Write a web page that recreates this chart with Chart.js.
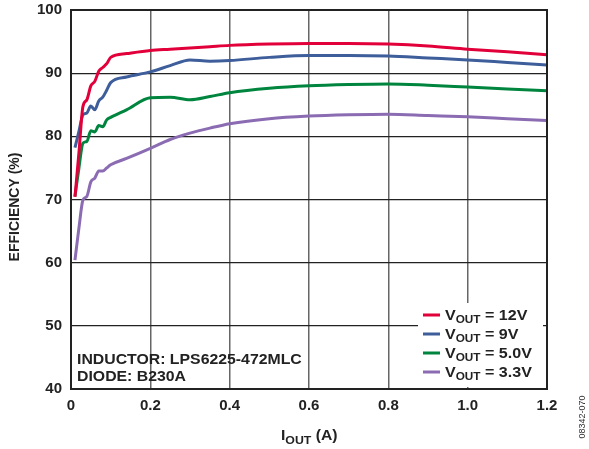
<!DOCTYPE html>
<html>
<head>
<meta charset="utf-8">
<script src="https://cdn.jsdelivr.net/npm/chart.js@4"></script>
<style>
  html, body { margin: 0; padding: 0; background: #fff; }
  #wrap { width: 589px; height: 449px; }
</style>
</head>
<body>
<div id="wrap"><canvas id="effChart" width="589" height="449"></canvas></div>
<script>
// output current (A), shared by all curves
var iout = [0.01, 0.02, 0.03, 0.04, 0.05, 0.06, 0.07, 0.08, 0.09, 0.1, 0.14, 0.2, 0.25, 0.3, 0.35, 0.4, 0.5, 0.6, 0.7, 0.8, 0.9, 1.0, 1.1, 1.2];
// efficiency (%)
var eff12 = [70.4, 77.4, 84.7, 85.8, 88.0, 88.7, 90.3, 90.9, 91.5, 92.5, 93.1, 93.6, 93.8, 94.0, 94.2, 94.4, 94.6, 94.7, 94.7, 94.6, 94.3, 93.8, 93.4, 92.9];
var eff9 = [78.2, 80.8, 83.4, 83.7, 84.8, 84.2, 85.6, 86.2, 87.3, 88.5, 89.4, 90.2, 91.2, 92.1, 91.9, 92.0, 92.5, 92.8, 92.8, 92.7, 92.4, 92.1, 91.7, 91.3];
var eff5 = [70.5, 75.0, 78.9, 79.2, 80.9, 80.7, 81.7, 81.5, 82.6, 83.0, 84.2, 86.1, 86.2, 85.8, 86.3, 86.9, 87.6, 88.0, 88.2, 88.3, 88.1, 87.8, 87.5, 87.2];
var eff33 = [60.4, 65.5, 69.9, 70.5, 72.8, 73.4, 74.5, 74.5, 75.0, 75.5, 76.5, 78.1, 79.5, 80.5, 81.3, 82.0, 82.8, 83.2, 83.4, 83.5, 83.3, 83.1, 82.8, 82.5];
var seriesNames = ['12V', '9V', '5.0V', '3.3V'];
var xTicks = ['0', '0.2', '0.4', '0.6', '0.8', '1.0', '1.2'];
var yTicks = [40, 50, 60, 70, 80, 90, 100];
var notes = ['INDUCTOR: LPS6225-472MLC', 'DIODE: B230A'];

var colors = ['#e2003b', '#3d5e9a', '#00853f', '#8b6cb3'];
var FONT = '"Liberation Sans", Arial, sans-serif';

function pts(ys) {
    return iout.map(function(x, i) { return { x: x, y: ys[i] }; });
}

// draw pieces of text left to right, each [text, size, dy]; type in the reference is a bit wider than Arial
function wideText(c, x, y, stretch, parts) {
    c.save();
    c.translate(x, y);
    c.scale(stretch, 1);
    var cx = 0;
    parts.forEach(function(p) {
        c.font = 'bold ' + p[1] + 'px ' + FONT;
        c.fillText(p[0], cx, p[2] || 0);
        cx += c.measureText(p[0]).width;
    });
    c.restore();
}

var extras = {
    id: 'extras',
    afterDatasetsDraw: function(chart) {
        var c = chart.ctx, a = chart.chartArea;
        c.save();
        // outer frame
        c.strokeStyle = '#222';
        c.lineWidth = 2;
        c.strokeRect(a.left, a.top, a.right - a.left, a.bottom - a.top);

        // legend box
        var lx = 418, ly = 303;
        c.fillStyle = '#fff';
        c.fillRect(lx, ly, a.right - 4 - lx, a.bottom - 2 - ly);
        c.textBaseline = 'middle';
        c.textAlign = 'left';
        for (var i = 0; i < seriesNames.length; i++) {
            var yy = 315 + i * 19;
            c.strokeStyle = colors[i];
            c.lineWidth = 3;
            c.beginPath(); c.moveTo(423, yy); c.lineTo(440, yy); c.stroke();
            c.fillStyle = '#222';
            wideText(c, 445, yy + 1, 1.07, [['V', 15], ['OUT', 11, 4], [' = ' + seriesNames[i], 15]]);
        }

        // note text
        c.fillStyle = '#222';
        wideText(c, 77, 360, 1.13, [[notes[0], 14]]);
        wideText(c, 77, 377, 1.13, [[notes[1], 14]]);

        // x title with subscript
        c.textBaseline = 'alphabetic';
        wideText(c, 281, 440, 1.12, [['I', 14], ['OUT', 11, 4], [' (A)', 14]]);

        // y title
        c.save();
        c.translate(15, 207);
        c.rotate(-Math.PI / 2);
        c.textAlign = 'center';
        c.textBaseline = 'middle';
        c.font = 'bold 14px ' + FONT;
        c.fillText('EFFICIENCY (%)', 0, 0);
        c.restore();

        // figure code
        c.save();
        c.translate(583, 417);
        c.rotate(-Math.PI / 2);
        c.textAlign = 'center';
        c.textBaseline = 'middle';
        c.font = '9px ' + FONT;
        c.fillStyle = '#333';
        c.fillText('08342-070', 0, 0);
        c.restore();

        c.restore();
    }
};

var ctx = document.getElementById('effChart').getContext('2d');
var effChart = new Chart(ctx, {
    type: 'line',
    data: {
        datasets: [eff12, eff9, eff5, eff33].map(function(d, i) {
            return {
                label: 'VOUT = ' + seriesNames[i],
                data: pts(d),
                borderColor: colors[i],
                borderWidth: 3,
                pointRadius: 0,
                fill: false,
                cubicInterpolationMode: 'monotone'
            };
        })
    },
    options: {
        responsive: false,
        animation: false,
        layout: { padding: { left: 0, top: 10, right: 42, bottom: 0 } },
        plugins: { legend: { display: false }, tooltip: { enabled: false } },
        scales: {
            x: {
                type: 'linear',
                min: 0, max: 1.2,
                afterFit: function(s) { s.height = 60; s.paddingLeft = 0; s.paddingRight = 0; },
                afterBuildTicks: function(s) {
                    s.ticks = xTicks.map(function(t) { return { value: parseFloat(t) }; });
                },
                ticks: {
                    padding: 8,
                    color: '#222',
                    font: { family: FONT, size: 15, weight: 'bold' },
                    callback: function(v, i) { return xTicks[i]; }
                },
                grid: { color: '#666', lineWidth: 1.5, drawTicks: false },
                border: { color: '#222', width: 2 }
            },
            y: {
                min: 40, max: 100,
                afterFit: function(s) { s.width = 71; s.paddingTop = 0; s.paddingBottom = 0; },
                afterBuildTicks: function(s) {
                    s.ticks = yTicks.map(function(t) { return { value: t }; });
                },
                ticks: {
                    padding: 9,
                    color: '#222',
                    font: { family: FONT, size: 15, weight: 'bold' }
                },
                grid: { color: '#222', lineWidth: 1.2, drawTicks: false },
                border: { color: '#222', width: 2 }
            }
        }
    },
    plugins: [extras]
});
</script>
</body>
</html>
